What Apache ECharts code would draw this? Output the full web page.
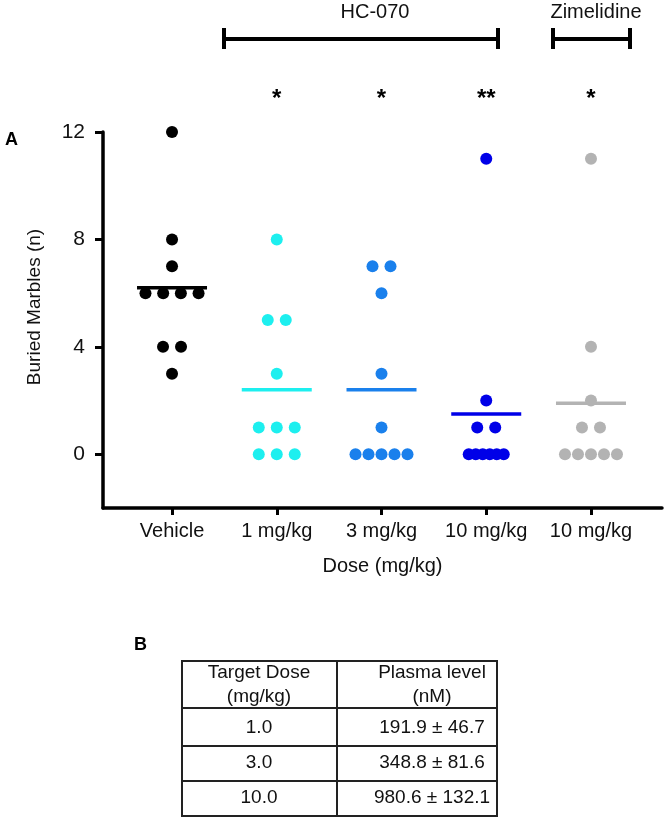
<!DOCTYPE html>
<html>
<head>
<meta charset="utf-8">
<script src="https://cdn.jsdelivr.net/npm/echarts@6/dist/echarts.min.js"></script>
<style>
html,body{margin:0;padding:0;background:#fff;}
#main{width:666px;height:820px;}
</style>
</head>
<body>
<div id="main"></div>
<script>
// ---- data ----
const categories = ['Vehicle', '1 mg/kg', '3 mg/kg', '10 mg/kg', '10 mg/kg'];
const vehicle = [12, 8, 7, 6, 6, 6, 6, 4, 4, 3];
const hc070_1 = [8, 5, 5, 3, 1, 1, 1, 0, 0, 0];
const hc070_3 = [7, 7, 6, 3, 1, 0, 0, 0, 0, 0];
const hc070_10 = [11, 2, 1, 1, 0, 0, 0, 0, 0, 0];
const zimelidine = [11, 4, 2, 1, 1, 0, 0, 0, 0, 0];
const significance = ['', '*', '*', '**', '*'];
const yTicks = [0, 4, 8, 12];
const tableHeaderDose = ['Target Dose', '(mg/kg)'];
const tableHeaderPlasma = ['Plasma level', '(nM)'];
const tableDose = ['1.0', '3.0', '10.0'];
const tablePlasmaMean = ['191.9', '348.8', '980.6'];
const tablePlasmaSEM = ['46.7', '81.6', '132.1'];

// ---- styling ----
const groups = [vehicle, hc070_1, hc070_3, hc070_10, zimelidine];
const colors = ['#000000', '#1DEFEF', '#1A80EC', '#0000E8', '#B3B3B3'];
const FONT = "'Liberation Sans', Arial, Helvetica, sans-serif";
const spacingByCount = {1: 0, 2: 18, 3: 18, 4: 17.7, 5: 13, 6: 7};

// build dot data: [x, value, rank among equal values, count of equal values, group]
const dotData = [];
groups.forEach((vals, gi) => {
  const counts = {};
  vals.forEach(v => counts[v] = (counts[v] || 0) + 1);
  const seen = {};
  vals.forEach(v => {
    const r = seen[v] || 0;
    seen[v] = r + 1;
    dotData.push([gi + 1, v, r, counts[v], gi]);
  });
});
const meanData = groups.map((vals, gi) => [gi + 1, vals.reduce((a, b) => a + b, 0) / vals.length, gi]);

const chart = echarts.init(document.getElementById('main'), null, {renderer: 'canvas'});

const option = {
  animation: false,
  backgroundColor: '#fff',
  grid: {left: 103, right: 4, top: 132, bottom: 312, containLabel: false},
  xAxis: {
    type: 'value',
    min: 0.341,
    max: 5.678,
    splitLine: {show: false},
    axisLine: {show: true, onZero: false, lineStyle: {color: '#000', width: 3.5}},
    axisTick: {show: true, length: 7, lineStyle: {color: '#000', width: 3}, customValues: [1, 2, 3, 4, 5]},
    axisLabel: {
      show: true, customValues: [1, 2, 3, 4, 5], margin: 13,
      color: '#111', fontSize: 20, fontFamily: FONT,
      formatter: v => categories[Math.round(v) - 1] || ''
    },
    name: 'Dose (mg/kg)',
    nameLocation: 'middle',
    nameGap: 48,
    nameTextStyle: {color: '#111', fontSize: 20, fontFamily: FONT}
  },
  yAxis: {
    type: 'value',
    min: -2,
    max: 12,
    splitLine: {show: false},
    axisLine: {show: true, onZero: false, lineStyle: {color: '#000', width: 3.5}},
    axisTick: {show: true, length: 8, lineStyle: {color: '#000', width: 3}, customValues: yTicks},
    axisLabel: {show: true, customValues: yTicks, margin: 18, color: '#111', fontSize: 21, fontFamily: FONT}
  },
  series: [
    {
      type: 'custom',
      name: 'mean',
      data: meanData,
      z: 2,
      renderItem: (params, api) => {
        const p = api.coord([api.value(0), api.value(1)]);
        return {
          type: 'line',
          shape: {x1: p[0] - 35, y1: p[1], x2: p[0] + 35, y2: p[1]},
          style: {stroke: colors[api.value(2)], lineWidth: 3.5}
        };
      }
    },
    {
      type: 'custom',
      name: 'dots',
      data: dotData,
      z: 3,
      renderItem: (params, api) => {
        const p = api.coord([api.value(0), api.value(1)]);
        const rank = api.value(2), n = api.value(3);
        const sp = spacingByCount[n] !== undefined ? spacingByCount[n] : 7;
        const cx = p[0] + (rank - (n - 1) / 2) * sp;
        return {
          type: 'circle',
          shape: {cx: cx, cy: p[1], r: 6},
          style: {fill: colors[api.value(4)]}
        };
      }
    }
  ]
};
chart.setOption(option);

// ---- annotations ----
const g = [];
const txt = (x, y, s, opts) => Object.assign({
  type: 'text', x: x, y: y,
  style: Object.assign({text: s, fill: '#111', font: '20px ' + FONT, align: 'center', verticalAlign: 'middle'}, opts || {})
});
const line = (x1, y1, x2, y2, w, c) => ({
  type: 'line', shape: {x1, y1, x2, y2}, style: {stroke: c || '#000', lineWidth: w}
});

// y axis title
g.push(Object.assign(txt(35, 307, 'Buried Marbles (n)', {font: '19px ' + FONT}), {rotation: Math.PI / 2}));

// panel labels
g.push({type: 'text', x: 5, y: 140, style: {text: 'A', fill: '#000', font: 'bold 18px ' + FONT, align: 'left', verticalAlign: 'middle'}});
g.push({type: 'text', x: 134, y: 645, style: {text: 'B', fill: '#000', font: 'bold 18px ' + FONT, align: 'left', verticalAlign: 'middle'}});

// brackets
g.push(txt(375, 12, 'HC-070'));
g.push(line(224, 39, 498, 39, 4));
g.push(line(224, 28, 224, 49, 4));
g.push(line(498, 28, 498, 49, 4));
g.push(txt(596, 12, 'Zimelidine'));
g.push(line(553, 39, 630, 39, 4));
g.push(line(553, 28, 553, 49, 4));
g.push(line(630, 28, 630, 49, 4));

// significance stars
significance.forEach((s, i) => {
  if (!s) return;
  const x = chart.convertToPixel({xAxisIndex: 0}, i + 1);
  g.push(txt(x, 99, s, {font: 'bold 24px ' + FONT, fill: '#000'}));
});

// table
const tL = 182, tR = 497, tM = 337, tT = 661, tB = 816;
const rowLines = [708, 746, 781];
const tc = '#222';
g.push({type: 'rect', shape: {x: tL, y: tT, width: tR - tL, height: tB - tT}, style: {fill: 'none', stroke: tc, lineWidth: 2}});
g.push(line(tM, tT, tM, tB, 2, tc));
rowLines.forEach(y => g.push(line(tL, y, tR, y, 2, tc)));
const c1 = 259, c2 = 432;
const tf = '19px ' + FONT;
g.push(txt(c1, 673, tableHeaderDose[0], {font: tf}));
g.push(txt(c1, 697, tableHeaderDose[1], {font: tf}));
g.push(txt(c2, 673, tableHeaderPlasma[0], {font: tf}));
g.push(txt(c2, 697, tableHeaderPlasma[1], {font: tf}));
const rowCenters = [728, 763, 798];
tableDose.forEach((d, i) => {
  g.push(txt(c1, rowCenters[i], d, {font: tf}));
  g.push(txt(c2, rowCenters[i], tablePlasmaMean[i] + ' \u00B1 ' + tablePlasmaSEM[i], {font: tf}));
});

chart.setOption({graphic: g});
</script>
</body>
</html>
